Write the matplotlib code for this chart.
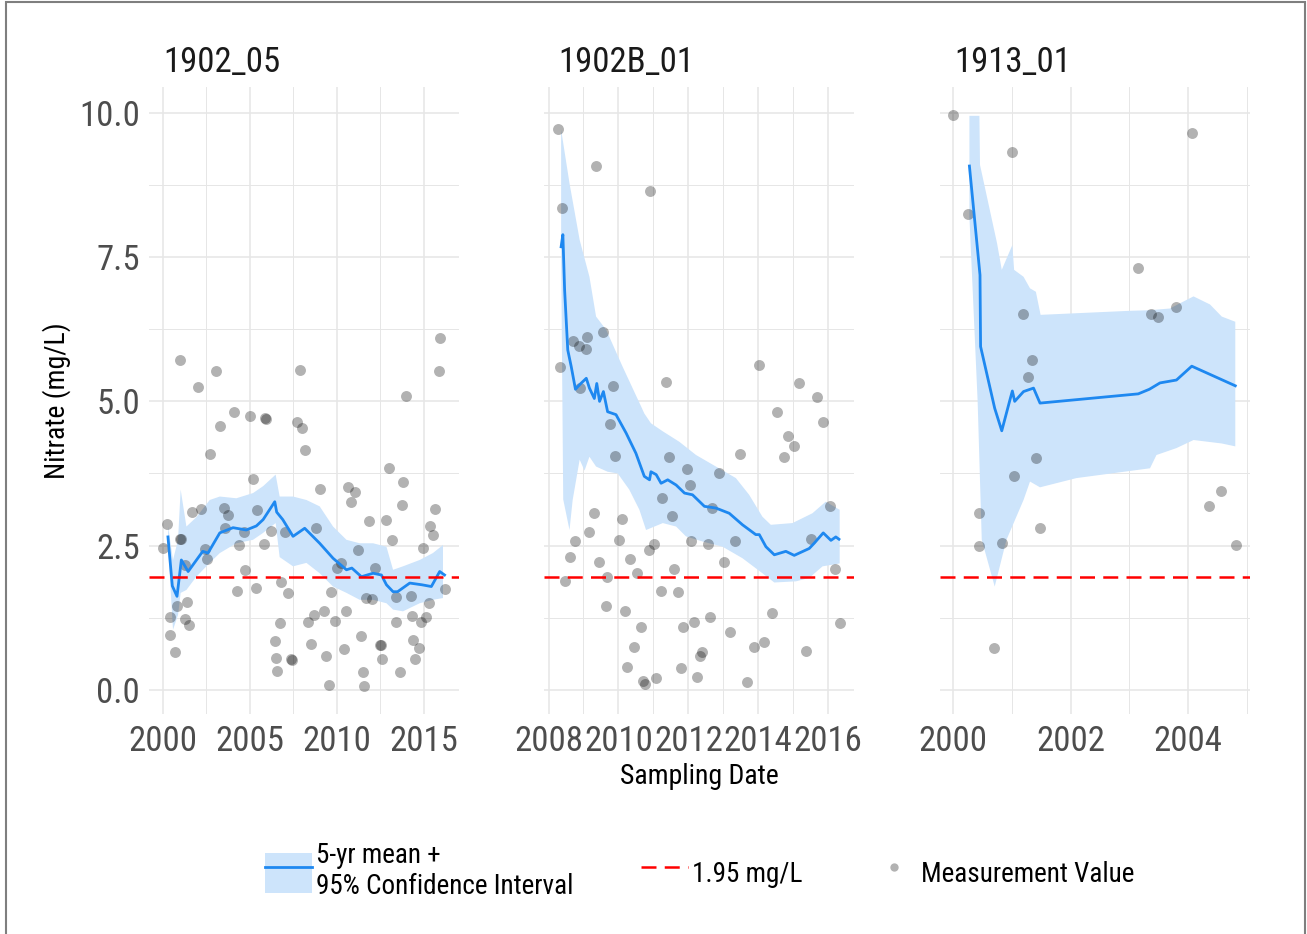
import numpy as np
import matplotlib
matplotlib.use('Agg')
import matplotlib.pyplot as plt
from matplotlib import font_manager
from matplotlib.lines import Line2D
from matplotlib.patches import Patch, Rectangle
from matplotlib.legend_handler import HandlerTuple
from matplotlib.ticker import FixedLocator, FormatStrFormatter

# pick a condensed face if one is there
names = {f.name for f in font_manager.fontManager.ttflist}
for fam in ['Roboto Condensed', 'Liberation Sans Narrow', 'Roboto']:
    if fam in names:
        break
k = 0.86 if fam == 'Roboto' else 1.0
plt.rcParams['font.family'] = [fam, 'DejaVu Sans']

titles = ['1902_05', '1902B_01', '1913_01']
threshold = 1.95

# ---- 1902_05 ----
p1_x = [2000.98, 2003.08, 2002.05, 2007.87, 2015.96, 2015.88, 2014.00, 2004.10, 2005.00, 2005.85,
        2005.95, 2003.28, 2007.74, 2008.03, 2008.20, 2002.74, 2013.00, 2005.20, 2009.02, 2010.65,
        2011.03, 2013.81, 2010.85, 2013.78, 2001.71, 2002.22, 2003.52, 2003.75, 2005.42, 2015.63,
        2011.86, 2012.82, 2015.38, 2015.53, 2013.20, 2008.83, 2003.56, 2006.20, 2004.66, 2007.00,
        2000.27, 2000.00, 2001.00, 2001.06, 2004.39, 2005.80, 2002.41, 2002.55, 2011.22, 2014.96,
        2001.30, 2010.02, 2010.23, 2012.18, 2004.75, 2006.82, 2007.20, 2004.27, 2005.38, 2009.70,
        2011.70, 2012.03, 2014.29, 2016.20, 2015.30, 2013.39, 2000.44, 2000.84, 2001.42, 2000.40,
        2001.26, 2001.49, 2000.69, 2008.35, 2008.68, 2009.25, 2009.89, 2010.56, 2013.39, 2014.35,
        2014.83, 2015.16, 2006.72, 2006.48, 2008.55, 2011.38, 2010.42, 2012.50, 2012.56, 2014.39,
        2014.71, 2006.53, 2006.57, 2007.38, 2007.42, 2009.37, 2012.60, 2014.48, 2011.51, 2013.62,
        2009.54, 2011.55]
p1_y = [5.71, 5.53, 5.25, 5.55, 6.10, 5.53, 5.10, 4.82, 4.74, 4.71,
        4.70, 4.58, 4.65, 4.53, 4.16, 4.08, 3.85, 3.66, 3.48, 3.52,
        3.43, 3.60, 3.25, 3.21, 3.08, 3.13, 3.15, 3.03, 3.12, 3.13,
        2.93, 2.95, 2.84, 2.69, 2.60, 2.80, 2.80, 2.76, 2.73, 2.74,
        2.87, 2.46, 2.62, 2.62, 2.51, 2.52, 2.44, 2.27, 2.43, 2.46,
        2.17, 2.11, 2.20, 2.11, 2.08, 1.86, 1.68, 1.72, 1.76, 1.70,
        1.59, 1.57, 1.62, 1.75, 1.50, 1.60, 1.26, 1.46, 1.53, 0.95,
        1.22, 1.13, 0.65, 1.17, 1.30, 1.36, 1.20, 1.36, 1.18, 1.28,
        1.17, 1.26, 1.16, 0.85, 0.80, 0.94, 0.71, 0.78, 0.77, 0.87,
        0.72, 0.55, 0.33, 0.53, 0.52, 0.59, 0.53, 0.53, 0.30, 0.30,
        0.09, 0.07]
p1_mean_x = [2000.30, 2000.55, 2000.82, 2001.07, 2001.46, 2002.30, 2002.60, 2003.28, 2004.04, 2004.80,
             2005.38, 2005.77, 2006.44, 2006.55, 2006.90, 2007.49, 2008.16, 2009.02, 2009.79, 2010.56,
             2010.87, 2011.42, 2012.09, 2012.57, 2012.86, 2013.24, 2013.50, 2014.20, 2014.90, 2015.44,
             2015.92, 2016.20]
p1_mean_y = [2.65, 1.80, 1.62, 2.25, 2.05, 2.40, 2.37, 2.72, 2.81, 2.77,
             2.84, 2.95, 3.26, 3.08, 2.95, 2.66, 2.80, 2.54, 2.28, 2.08,
             2.11, 1.96, 2.02, 1.99, 1.82, 1.70, 1.70, 1.85, 1.82, 1.79,
             2.05, 1.99]
p1_band_x = [2000.31, 2000.59, 2000.88, 2001.03, 2001.36, 2001.93, 2002.70, 2003.28, 2004.23, 2005.19,
             2005.77, 2006.49, 2006.72, 2007.49, 2008.26, 2009.02, 2009.79, 2010.56, 2011.32, 2012.09,
             2012.86, 2013.24, 2013.81, 2014.77, 2015.53, 2016.11]
p1_up = [2.83, 2.25, 2.60, 3.47, 2.83, 2.99, 3.29, 3.35, 3.32, 3.41,
         3.53, 3.73, 3.35, 3.35, 3.29, 3.18, 2.83, 2.60, 2.54, 2.54,
         2.48, 2.08, 2.14, 2.25, 2.37, 2.51]
p1_lo = [2.48, 1.04, 1.30, 1.68, 1.73, 1.96, 2.20, 2.37, 2.54, 2.60,
         2.72, 2.89, 2.30, 2.14, 2.20, 2.02, 1.79, 1.68, 1.56, 1.56,
         1.50, 1.39, 1.36, 1.50, 1.56, 1.59]

# ---- 1902B_01 ----
p2_x = [2008.27, 2009.36, 2008.39, 2010.90, 2009.55, 2008.69, 2008.87, 2009.06, 2009.09, 2008.33,
        2008.90, 2009.84, 2011.36, 2014.03, 2015.17, 2015.67, 2014.55, 2015.86, 2014.84, 2015.01,
        2014.74, 2009.77, 2009.91, 2011.44, 2013.48, 2011.95, 2012.87, 2012.05, 2011.25, 2012.69,
        2016.05, 2011.53, 2009.31, 2010.09, 2009.15, 2010.03, 2008.76, 2012.08, 2012.55, 2013.34,
        2015.52, 2011.03, 2010.87, 2008.62, 2010.33, 2009.43, 2011.58, 2013.03, 2016.19, 2008.48,
        2009.68, 2010.52, 2011.22, 2011.69, 2009.63, 2010.20, 2014.39, 2012.62, 2010.65, 2011.86,
        2012.15, 2013.19, 2016.33, 2010.44, 2013.89, 2014.17, 2015.38, 2012.39, 2012.33, 2010.25,
        2011.79, 2010.69, 2010.76, 2011.08, 2012.25, 2013.69]
p2_y = [9.72, 9.08, 8.35, 8.65, 6.21, 6.04, 5.96, 5.90, 6.12, 5.59,
        5.23, 5.27, 5.33, 5.63, 5.32, 5.08, 4.81, 4.64, 4.40, 4.22,
        4.04, 4.60, 4.06, 4.04, 4.09, 3.83, 3.75, 3.55, 3.33, 3.15,
        3.19, 3.02, 3.06, 2.96, 2.74, 2.60, 2.58, 2.58, 2.52, 2.58,
        2.61, 2.53, 2.43, 2.30, 2.27, 2.21, 2.10, 2.21, 2.10, 1.88,
        1.96, 2.02, 1.72, 1.70, 1.46, 1.36, 1.33, 1.26, 1.09, 1.08,
        1.18, 1.01, 1.16, 0.75, 0.75, 0.83, 0.68, 0.65, 0.59, 0.39,
        0.38, 0.16, 0.10, 0.20, 0.22, 0.14]
p2_mean_x = [2008.36, 2008.41, 2008.46, 2008.55, 2008.65, 2008.77, 2008.89, 2009.08, 2009.17, 2009.31,
             2009.38, 2009.46, 2009.57, 2009.69, 2009.93, 2010.22, 2010.50, 2010.74, 2010.89, 2010.93,
             2011.08, 2011.22, 2011.41, 2011.65, 2011.89, 2012.12, 2012.46, 2012.79, 2013.17, 2013.55,
             2013.93, 2014.03, 2014.22, 2014.46, 2014.79, 2015.03, 2015.46, 2015.60, 2015.86, 2016.08,
             2016.22, 2016.31]
p2_mean_y = [7.68, 7.89, 6.93, 5.89, 5.60, 5.21, 5.29, 5.40, 5.23, 5.05,
             5.31, 5.00, 5.17, 4.82, 4.77, 4.45, 4.10, 3.70, 3.64, 3.78,
             3.73, 3.58, 3.64, 3.55, 3.41, 3.38, 3.18, 3.15, 3.06, 2.86,
             2.69, 2.69, 2.48, 2.34, 2.40, 2.33, 2.45, 2.54, 2.72, 2.59,
             2.65, 2.61]
p2_up_x = [2008.36, 2008.60, 2008.89, 2009.17, 2009.36, 2009.65, 2010.12, 2010.65, 2010.74, 2010.93,
           2011.27, 2011.74, 2012.22, 2012.79, 2013.36, 2013.74, 2014.12, 2014.36, 2014.98, 2015.55,
           2015.93, 2016.33]
p2_up = [9.71, 8.78, 7.80, 7.16, 6.47, 6.24, 5.60, 4.91, 4.79, 4.62,
         4.48, 4.30, 4.07, 3.87, 3.67, 3.38, 3.00, 2.86, 2.89, 3.06,
         3.26, 3.12]
p2_lo_x = [2008.36, 2008.42, 2008.60, 2008.69, 2008.89, 2009.03, 2009.17, 2009.36, 2009.69, 2009.98,
           2010.31, 2010.60, 2010.79, 2011.03, 2011.27, 2011.65, 2011.93, 2012.41, 2012.98, 2013.55,
           2014.12, 2014.46, 2015.08, 2015.46, 2015.84, 2016.33]
p2_lo = [7.60, 3.30, 2.77, 3.29, 3.99, 3.80, 4.04, 3.87, 3.78, 3.75,
         3.47, 3.12, 2.77, 2.83, 2.89, 2.83, 2.66, 2.57, 2.48, 2.28,
         2.02, 1.86, 1.88, 1.94, 2.14, 2.19]

# ---- 1913_01 ----
p3_x = [2000.00, 2001.01, 2004.06, 2000.26, 2003.14, 2001.19, 2003.36, 2003.48, 2003.79, 2001.35,
        2001.28, 2001.41, 2001.03, 2000.44, 2001.48, 2000.44, 2000.83, 2004.36, 2004.55, 2004.81,
        2000.70]
p3_y = [9.97, 9.32, 9.65, 8.25, 7.31, 6.52, 6.52, 6.47, 6.64, 5.71,
        5.42, 4.02, 3.71, 3.06, 2.81, 2.50, 2.55, 3.19, 3.45, 2.51,
        0.72]
p3_mean_x = [2000.28, 2000.46, 2000.47, 2000.71, 2000.83, 2000.97, 2001.01, 2001.05, 2001.20, 2001.37,
             2001.48, 2003.15, 2003.34, 2003.52, 2003.80, 2004.06, 2004.80]
p3_mean_y = [9.08, 7.19, 5.95, 4.88, 4.49, 5.03, 5.18, 5.00, 5.17, 5.23,
             4.97, 5.13, 5.21, 5.32, 5.37, 5.61, 5.27]
p3_up_x = [2000.28, 2000.45, 2000.46, 2000.75, 2000.83, 2001.01, 2001.04, 2001.20, 2001.31, 2001.41,
           2001.49, 2003.01, 2003.34, 2003.69, 2003.86, 2004.09, 2004.37, 2004.57, 2004.80]
p3_up = [9.95, 9.95, 9.10, 7.74, 7.28, 7.71, 7.28, 7.16, 6.96, 6.90,
         6.50, 6.57, 6.58, 6.61, 6.70, 6.82, 6.68, 6.47, 6.38]
p3_lo_x = [2000.28, 2000.42, 2000.49, 2000.71, 2000.91, 2001.20, 2001.31, 2001.48, 2002.10, 2003.35,
           2003.46, 2003.80, 2004.09, 2004.57, 2004.80]
p3_lo = [8.20, 5.00, 2.60, 1.79, 2.60, 3.29, 3.61, 3.51, 3.67, 3.84,
         4.07, 4.19, 4.33, 4.27, 4.22]

panels = [
    (p1_x, p1_y, p1_mean_x, p1_mean_y, p1_band_x, p1_up, p1_band_x, p1_lo,
     (1999.21, 2017.03), [2000, 2005, 2010, 2015], [2002.5, 2007.5, 2012.5]),
    (p2_x, p2_y, p2_mean_x, p2_mean_y, p2_up_x, p2_up, p2_lo_x, p2_lo,
     (2007.87, 2016.74), [2008, 2010, 2012, 2014, 2016], [2009, 2011, 2013, 2015]),
    (p3_x, p3_y, p3_mean_x, p3_mean_y, p3_up_x, p3_up, p3_lo_x, p3_lo,
     (1999.78, 2005.05), [2000, 2002, 2004], [2001, 2003, 2005]),
]

band_col = '#cde4fb'
line_col = '#1e88f0'
grid_col = '#e6e6e6'
tick_col = '#4d4d4d'

W, H = 1307, 934
fig = plt.figure(figsize=(W / 100, H / 100), dpi=100)
lefts = [149, 544, 940]
bottom, top = 714, 87

for i, (px, py, mx, my, ux, uy, lx, ly, xlim, maj, mnr) in enumerate(panels):
    ax = fig.add_axes([lefts[i] / W, 1 - bottom / H, 310 / W, (bottom - top) / H])
    bx = np.concatenate([ux, lx[::-1]])
    by = np.concatenate([uy, ly[::-1]])
    ax.fill(bx, by, color=band_col, lw=0, zorder=1)
    ax.scatter(px, py, s=62, color='black', alpha=0.3, lw=0, zorder=2)
    ax.plot(mx, my, color=line_col, lw=2, zorder=3)
    ax.axhline(threshold, color='red', lw=1.8, dashes=(6, 3.3), zorder=4)

    ax.set_xlim(*xlim)
    ax.set_ylim(-0.42, 10.45)
    ax.xaxis.set_major_locator(FixedLocator(maj))
    ax.xaxis.set_minor_locator(FixedLocator(mnr))
    ax.xaxis.set_major_formatter(FormatStrFormatter('%d'))
    ax.yaxis.set_major_locator(FixedLocator([0, 2.5, 5, 7.5, 10]))
    ax.yaxis.set_minor_locator(FixedLocator([1.25, 3.75, 6.25, 8.75]))
    ax.yaxis.set_major_formatter(FormatStrFormatter('%.1f'))
    ax.grid(which='major', color=grid_col, lw=1.1, zorder=0)
    ax.grid(which='minor', color=grid_col, lw=0.7, zorder=0)
    ax.set_axisbelow(True)
    for s in ax.spines.values():
        s.set_visible(False)
    ax.tick_params(which='both', length=0, labelsize=25 * k, colors=tick_col)
    ax.tick_params(axis='x', pad=8)
    ax.tick_params(axis='y', pad=6.5)
    if i > 0:
        ax.tick_params(axis='y', labelleft=False)
    ax.annotate(titles[i], xy=(0, 1), xycoords='axes fraction', xytext=(10.5, 11),
                textcoords='offset points', ha='left', va='baseline',
                fontsize=25 * k, color='#1a1a1a')

fig.text(57 / W, 1 - 400.5 / H, 'Nitrate (mg/L)', rotation=90, ha='center', va='center',
         fontsize=20 * k, color='black')
fig.text(699 / W, 1 - 776 / H, 'Sampling Date', ha='center', va='center',
         fontsize=20 * k, color='black')

handles = [(Patch(facecolor=band_col, edgecolor='none'), Line2D([], [], color=line_col, lw=2)),
           Line2D([], [], color='red', lw=1.8, dashes=(6, 3.3)),
           Line2D([], [], marker='o', ls='', color='black', alpha=0.3, markersize=6, markeredgewidth=0)]
labels = ['5-yr mean +\n95% Confidence Interval', '1.95 mg/L', 'Measurement Value']
fig.legend(handles, labels, loc='center', bbox_to_anchor=(700 / W, 1 - 871 / H), ncol=3,
           frameon=False, fontsize=19.5 * k, handlelength=1.73, handleheight=1.9,
           handletextpad=0.15, columnspacing=2.5, labelspacing=0.1,
           handler_map={tuple: HandlerTuple(ndivide=1, pad=0)})

# thin frame round the picture
fig.add_artist(Rectangle((6 / W, -0.01), (1305 - 6) / W, 1.0075, transform=fig.transFigure,
                         fill=False, edgecolor='#7f7f7f', lw=1.5))

fig.savefig('out.png', dpi=100)
